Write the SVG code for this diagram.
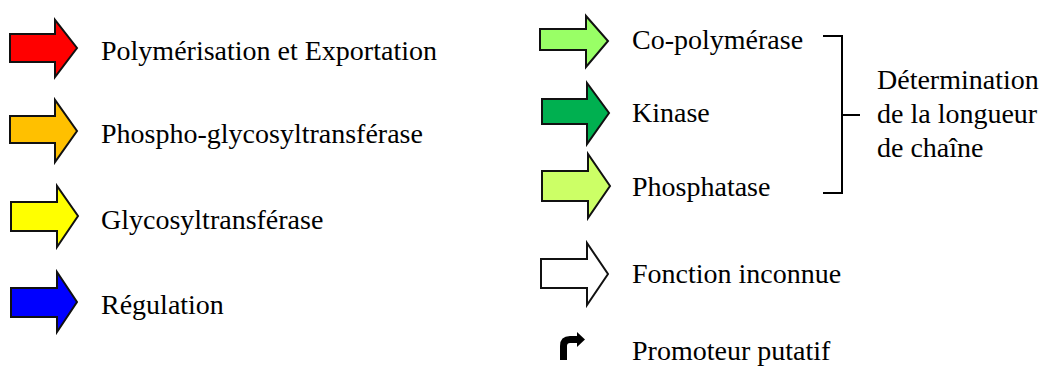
<svg xmlns="http://www.w3.org/2000/svg" width="1050" height="371" viewBox="0 0 1050 371">
<style>
.ar{stroke:#111;stroke-width:2;stroke-linejoin:miter}
.br{fill:none;stroke:#000;stroke-width:2}
text{font-family:'Times New Roman','Liberation Serif',serif;font-size:28px;fill:#000}
</style>
<rect width="1050" height="371" fill="#fff"/>
<g id="n-red"><polygon class="ar" fill="#FF0000" points="10,34 55,34 55,20 77,48 55,77 55,62 10,62"/><text x="101" y="60">Polymérisation et Exportation</text></g>
<g id="n-orange"><polygon class="ar" fill="#FFC000" points="10,116 55,116 55,100 77,131 55,162 55,143 10,143"/><text x="101" y="143">Phospho-glycosyltransférase</text></g>
<g id="n-yellow"><polygon class="ar" fill="#FFFF00" points="11,202 57,202 57,186 78,216 57,247 57,231 11,231"/><text x="101" y="229">Glycosyltransférase</text></g>
<g id="n-blue"><polygon class="ar" fill="#0000FF" points="11,288 57,288 57,272 77,302 57,332 57,317 11,317"/><text x="101" y="314">Régulation</text></g>
<g id="n-copol"><polygon class="ar" fill="#99FF66" points="540,29 586,29 586,16 608,41 586,67 586,50 540,50"/><text x="632" y="49">Co-polymérase</text></g>
<g id="n-kinase"><polygon class="ar" fill="#00B050" points="542,99 587,99 587,83 609,113 587,144 587,124 542,124"/><text x="632" y="122">Kinase</text></g>
<g id="n-phos"><polygon class="ar" fill="#CCFF66" points="542,171 588,171 588,154 610,186 588,218 588,201 542,201"/><text x="632" y="196">Phosphatase</text></g>
<g id="n-unknown"><polygon class="ar" fill="#FFFFFF" points="541,259 587,259 587,243 608,274 587,305 587,288 541,288"/><text x="632" y="283">Fonction inconnue</text></g>
<g id="n-promoter"><path d="M563.5,360 L563.5,346 Q563.5,339.5 570,339.5 L578,339.5" fill="none" stroke="#000" stroke-width="7"/><polygon points="577,332 585,339.5 577,347" fill="#000"/><text x="632" y="360">Promoteur putatif</text></g>
<g id="n-bracket"><path class="br" d="M823,36 L842,36 L842,193 L823,193 M842,115 L860,115"/><text x="877" y="89">Détermination</text><text x="877" y="123">de la longueur</text><text x="877" y="157">de chaîne</text></g>
<g id="connectors"></g>
</svg>
